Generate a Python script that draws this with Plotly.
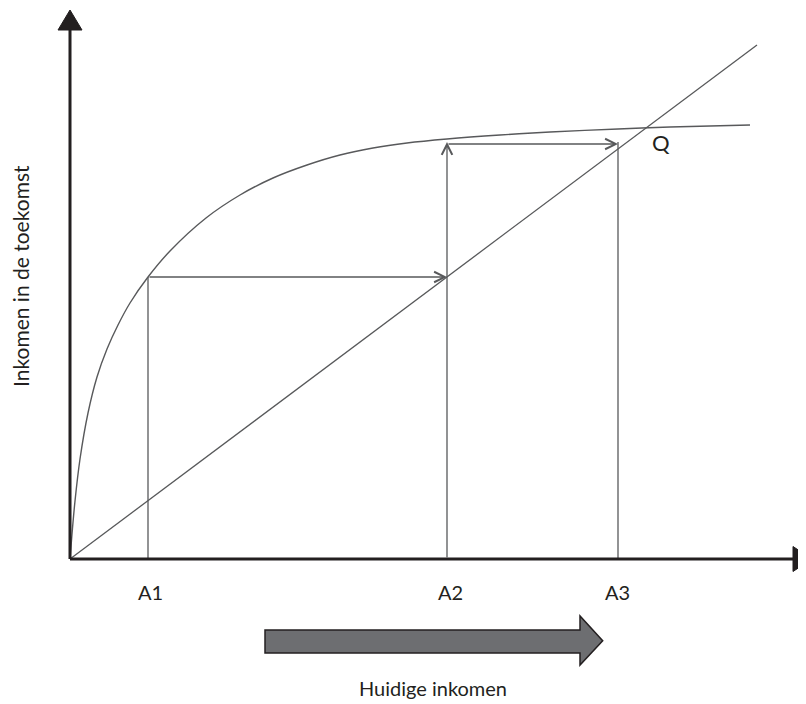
import plotly.graph_objects as go

# Data (arbitrary income units; origin at 0,0)
curve_x = [0, 2, 5, 10, 18, 27, 37, 48, 60, 78, 100, 136, 170, 203, 237, 270, 303,
           337, 377, 430, 480, 548, 600, 680]
curve_y = [0, 25, 58, 100, 146, 182, 210, 234, 256, 282, 308, 341, 364, 381, 394,
           404, 411, 416, 420, 424, 427, 430, 432, 434]
diag_x = [0, 687]
diag_y = [0, 514]
A_labels = ["A1", "A2", "A3"]
A_values = [78, 377, 548]
A1_future = 282      # future income reached from A1 (= A2 on the 45° line)
A2_future = 417      # future income reached from A2 (= A3)
Q_point = (591, 417)

INK = "#231f20"
LINE = "#58595b"

fig = go.Figure()

fig.add_trace(go.Scatter(x=diag_x, y=diag_y, mode="lines",
                         line=dict(color=LINE, width=1.3), hoverinfo="skip"))
fig.add_trace(go.Scatter(x=curve_x, y=curve_y, mode="lines",
                         line=dict(color=LINE, width=1.4, shape="spline", smoothing=1.0),
                         hoverinfo="skip"))
fig.add_trace(go.Scatter(x=[A_values[0], A_values[0]], y=[0, A1_future], mode="lines",
                         line=dict(color=LINE, width=1.3), hoverinfo="skip"))
fig.add_trace(go.Scatter(x=[A_values[2], A_values[2]], y=[0, A2_future], mode="lines",
                         line=dict(color=LINE, width=1.3), hoverinfo="skip"))

annotations = []
def arrow(x0, y0, x1, y1):
    annotations.append(dict(x=x1, y=y1, ax=x0, ay=y0, xref="x", yref="y",
                            axref="x", ayref="y", showarrow=True, text="",
                            arrowhead=5, arrowsize=1.6, arrowwidth=1.3,
                            arrowcolor=LINE, standoff=0, startstandoff=0))

arrow(A_values[0], A1_future, A_values[1], A1_future)
arrow(A_values[1], 0, A_values[1], A2_future)
arrow(A_values[1], A2_future - 2, A_values[2], A2_future - 2)

font = dict(family="Lato, 'Open Sans', sans-serif", color=INK)
label_x = [80, 380, 547]
for lab, lx in zip(A_labels, label_x):
    annotations.append(dict(x=lx, y=-33, xref="x", yref="y", text=lab, showarrow=False,
                            font=dict(size=20, **font)))
annotations.append(dict(x=Q_point[0], y=Q_point[1], xref="x", yref="y", text="Q",
                        showarrow=False, font=dict(size=22, **font)))
annotations.append(dict(x=363, y=-129, xref="x", yref="y", text="Huidige inkomen",
                        showarrow=False, font=dict(size=20, **font)))
annotations.append(dict(x=-50, y=283, xref="x", yref="y", text="Inkomen in de toekomst",
                        showarrow=False, textangle=-90, font=dict(size=21, **font)))

shapes = []
shapes.append(dict(type="line", xref="x", yref="y", x0=0, y0=0, x1=730, y1=0,
                   line=dict(color=INK, width=3)))
shapes.append(dict(type="line", xref="x", yref="y", x0=0, y0=0, x1=0, y1=535,
                   line=dict(color=INK, width=3)))
shapes.append(dict(type="path", xref="x", yref="y",
                   path="M 723 12.5 L 742 0 L 723 -12.5 Z",
                   fillcolor=INK, line=dict(color=INK, width=1)))
shapes.append(dict(type="path", xref="x", yref="y",
                   path="M -12 529 L 0 549 L 12 529 Z",
                   fillcolor=INK, line=dict(color=INK, width=1)))
shapes.append(dict(type="path", xref="x", yref="y",
                   path="M 195 -71 L 510 -71 L 510 -57 L 532.7 -81.7 L 510 -106 L 510 -94 L 195 -94 Z",
                   fillcolor="#6d6e71", line=dict(color=INK, width=1.5)))

# page has an 8px body margin: figure is 798x696 so page pixels map 1:1
fig.update_layout(
    width=798, height=696, margin=dict(l=0, r=0, t=0, b=0),
    paper_bgcolor="white", plot_bgcolor="white", showlegend=False,
    xaxis=dict(range=[-62, 736], visible=False, fixedrange=True),
    yaxis=dict(range=[-145, 551], visible=False, fixedrange=True),
    annotations=annotations, shapes=shapes,
)

fig.write_html("out.html")
